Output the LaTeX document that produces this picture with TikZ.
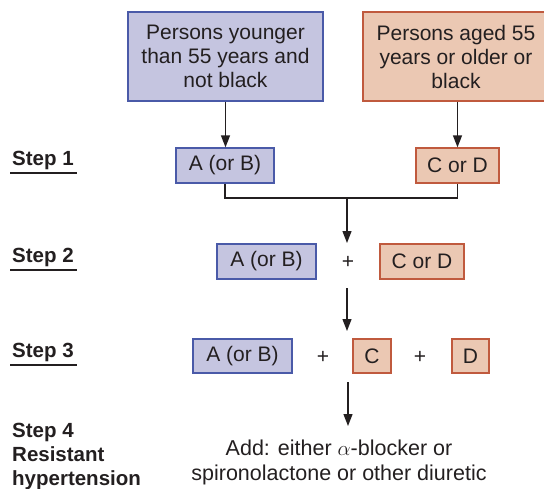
\documentclass[tikz,border=0pt]{standalone}
\usepackage{fontspec}
\setmainfont{Liberation Sans}
\usetikzlibrary{arrows.meta,calc}
\definecolor{bfill}{HTML}{C5C5E0}
\definecolor{bdraw}{HTML}{4A5AA8}
\definecolor{ofill}{HTML}{EBC8B3}
\definecolor{odraw}{HTML}{C05A3E}
\definecolor{txt}{HTML}{231F20}
\begin{document}
\begin{tikzpicture}[x=1pt,y=-1pt,
  bbox/.style={draw=bdraw,fill=bfill,line width=1.3pt,minimum height=35pt,inner sep=0pt,text=txt,font=\fontsize{21}{24}\selectfont},
  obox/.style={bbox,draw=odraw,fill=ofill},
  lbl/.style={anchor=base west,inner sep=0pt,font=\bfseries\fontsize{20.5}{24}\selectfont,text=txt,align=left},
  uline/.style={line width=1.8pt,draw=txt},
  conn/.style={line width=1.3pt,draw=txt},
  arr/.style={conn,-{Triangle[length=12pt,width=9pt]}},
  plus/.style={text=txt,font=\fontsize{21}{24}\selectfont,inner sep=0pt}
]
\useasboundingbox (0,0) rectangle (544,488);
% top boxes
\node[bbox,minimum width=195pt,minimum height=89pt,align=center] (top1) at (225.5,56.5) {Persons younger\\than 55 years and\\not black};
\node[obox,minimum width=186pt,minimum height=89pt,align=center] (top2) at (456,56.5) {Persons aged 55\\years or older or\\black};
% step 1
\node[bbox,minimum width=98pt] (s1a) at (225,165.5) {A (or B)};
\node[obox,minimum width=83pt] (s1c) at (457.5,165.5) {C or D};
% step 2
\node[bbox,minimum width=99pt] (s2a) at (266.5,261.5) {A (or B)};
\node[plus] (p2) at (348,262) {+};
\node[obox,minimum width=84pt] (s2c) at (422,261.5) {C or D};
% step 3
\node[bbox,minimum width=99pt,minimum height=34pt] (s3a) at (242.5,356) {A (or B)};
\node[plus] (p3a) at (323,357) {+};
\node[obox,minimum width=38pt,minimum height=34pt] (s3c) at (372,356) {C};
\node[plus] (p3b) at (420,357) {+};
\node[obox,minimum width=37pt,minimum height=34pt] (s3d) at (470.5,356) {D};
% step 4
\node[anchor=base,inner sep=0pt,align=center,text=txt,font=\fontsize{21.5}{25}\selectfont] (add) at (339,480) {Add: either $\alpha$-blocker or\\spironolactone or other diuretic};
% labels
\node[lbl] (l1) at (12,165) {Step 1};
\node[lbl] (l2) at (12,262) {Step 2};
\node[lbl] (l3) at (12,357) {Step 3};
\node[lbl] (l4) at (12,485) {Step 4\\Resistant\\hypertension};
\foreach \n in {l1,l2,l3}{\draw[uline] ($(\n.base west)+(-2,8)$) -- ($(\n.base west)+(65,8)$);}
% connectors
\coordinate (j1) at (347,198);
\coordinate (t2) at (347,243);
\coordinate (a2) at (347,288);
\coordinate (t3) at (347,331);
\coordinate (a3) at (348,382);
\coordinate (t4) at (348,426);
\draw[arr] (top1.south) -- (top1.south |- s1a.north);
\draw[arr] (s1c.north |- top2.south) -- (s1c.north);
\draw[conn] (s1a.south) |- (j1) -| (s1c.south);
\draw[arr] (j1) -- (t2);
\draw[arr] (a2) -- (t3);
\draw[arr] (a3) -- (t4);
\end{tikzpicture}
\end{document}
